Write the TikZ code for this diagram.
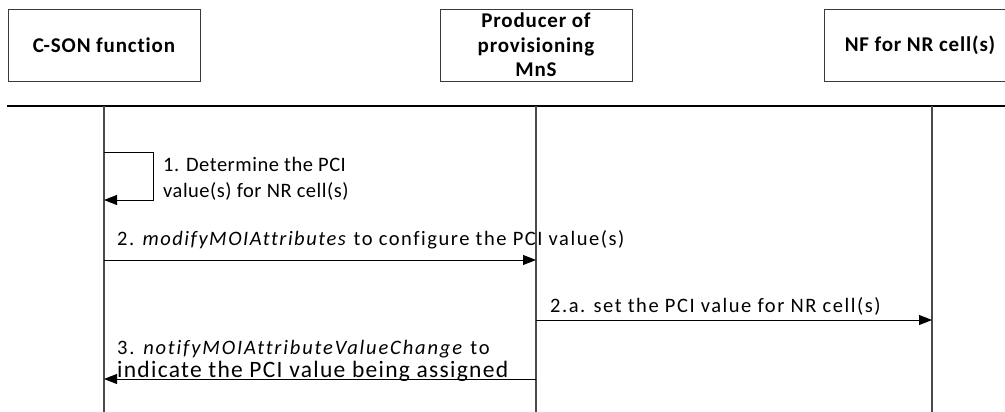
\documentclass[tikz,border=0pt]{standalone}
\usepackage{fontspec}
\setmainfont{Carlito}[Ligatures=NoCommon]
\newfontfamily\hdrfont[LetterSpace=4,Ligatures=NoCommon]{Carlito}
\newfontfamily\msgfontA[LetterSpace=2.5,Ligatures=NoCommon]{Carlito}
\newfontfamily\msgfontB[LetterSpace=7.5,Ligatures=NoCommon]{Carlito}
\newfontfamily\msgfontC[LetterSpace=9,Ligatures=NoCommon]{Carlito}
\newfontfamily\msgfontD[LetterSpace=5.5,Ligatures=NoCommon]{Carlito}
\usepackage{tikz}
\usetikzlibrary{arrows.meta,positioning}
\definecolor{border}{HTML}{3A3A3A}
\definecolor{life}{HTML}{4A4A4A}
\tikzset{
  entity/.style={draw=border, thick, minimum width=192pt, minimum height=72pt,
    align=center, font=\hdrfont\fontsize{21}{24.5}\selectfont\bfseries, inner sep=2pt},
  lifeline/.style={draw=life, line width=1.3pt},
  msg/.style={-{Triangle[length=13pt,width=10pt]}, line width=0.9pt, draw=black},
  lbl/.style={font=\msgfontB\fontsize{20.5}{26.5}\selectfont, inner sep=0pt, align=left}
}
\newcommand{\MsgLabel}[3]{% name, baseline position, text
  \node[lbl, anchor=base west] (#1) at (#2) {#3};
}

\begin{document}
\begin{tikzpicture}[x=1pt, y=-1pt]
  \clip (0,0) rectangle (1005,412);
  \fill[white] (0,0) rectangle (1005,412);
  % entities
  \node[entity] (cson) at (104,45) {C-SON function};
  \node[entity] (prov) at (536,45) {Producer of\\provisioning\\MnS};
  \node[entity] (nf)   at (920,45) {NF for NR cell(s)};
  % header rule and lifelines
  \coordinate (ruleL) at (7,106);
  \coordinate (ruleR) at (1005,106);
  \draw[line width=1.2pt] (ruleL) -- (ruleR);
  \coordinate (csonEnd) at (104,412);
  \coordinate (provEnd) at (536,412);
  \coordinate (nfEnd)   at (932,412);
  \draw[lifeline] (csonEnd |- ruleL) -- (csonEnd);
  \draw[lifeline] (provEnd |- ruleL) -- (provEnd);
  \draw[lifeline] (nfEnd |- ruleL) -- (nfEnd);
  % 1. self message
  \coordinate (selfA) at (104,152);
  \coordinate (selfB) at (153,152);
  \coordinate (selfC) at (153,200);
  \coordinate (selfD) at (104,200);
  \draw[msg] (selfA) -- (selfB) -- (selfC) -- (selfD);
  \node[lbl, font=\msgfontA\fontsize{20.5}{26.5}\selectfont, anchor=north west] (m1) at (163,157) {1. Determine the PCI\\value(s) for NR cell(s)};
  % 2. modify
  \coordinate (m2s) at (104,260);
  \coordinate (m2e) at (536,260);
  \draw[msg] (m2s) -- (m2e);
  \MsgLabel{m2}{117,245}{2. \textit{modifyMOIAttributes} to configure the PCI value(s)}
  % 2.a set
  \coordinate (m2as) at (536,320);
  \coordinate (m2ae) at (932,320);
  \draw[msg] (m2as) -- (m2ae);
  \MsgLabel{m2a}{550,312}{2.a. set the PCI value for NR cell(s)}
  % 3. notify
  \coordinate (m3s) at (536,379);
  \coordinate (m3e) at (104,379);
  \draw[msg] (m3s) -- (m3e);
  \node[lbl, font=\msgfontC\fontsize{20.5}{26}\selectfont, anchor=base west] (m3) at (117,354) {3. \textit{notifyMOIAttributeValueChange} to};
  \node[lbl, font=\msgfontD\fontsize{23.5}{28}\selectfont, anchor=base west] (m3b) at (117,377) {indicate the PCI value being assigned};
\end{tikzpicture}
\end{document}
